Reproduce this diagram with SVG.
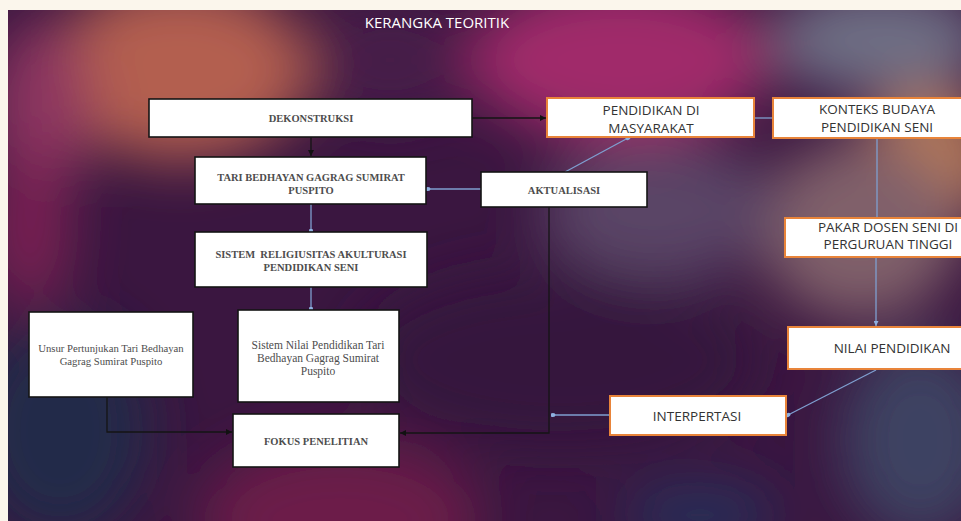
<svg xmlns="http://www.w3.org/2000/svg" width="961" height="521" viewBox="0 0 961 521">
<defs>
<filter id="blur" x="-50%" y="-50%" width="200%" height="200%"><feGaussianBlur stdDeviation="28"/></filter>
<clipPath id="bgclip"><rect x="8" y="10" width="953" height="511"/></clipPath>
<marker id="dot" viewBox="0 0 6 6" refX="3" refY="3" markerWidth="5" markerHeight="5" orient="auto" markerUnits="userSpaceOnUse">
<ellipse cx="3" cy="3" rx="3" ry="2.4" fill="#8fb0e0"/>
</marker>
<marker id="tri" viewBox="0 0 8 8" refX="8" refY="4" markerWidth="6" markerHeight="6" orient="auto" markerUnits="userSpaceOnUse">
<path d="M0,0 L8,4 L0,8 z" fill="#111"/>
</marker>
<marker id="btri" viewBox="0 0 8 8" refX="8" refY="4" markerWidth="5" markerHeight="5" orient="auto" markerUnits="userSpaceOnUse">
<path d="M0,0 L8,4 L0,8 z" fill="#8fb0e0"/>
</marker>
</defs>
<style>
.bx{fill:#ffffff;stroke:#151515;stroke-width:1.6}
.ob{fill:#ffffff;stroke:#e8843a;stroke-width:2}
.st{font-family:"Liberation Serif","Times New Roman",serif;font-size:10.5px;fill:#4d4d4d;text-anchor:middle;font-weight:bold}
.ss{font-family:"Liberation Serif","Times New Roman",serif;font-size:10.7px;fill:#4d4d4d;text-anchor:middle}
.sn{font-family:"Open Sans","Liberation Sans",sans-serif;font-size:13.5px;fill:#333333;text-anchor:middle}
.ttl{font-family:"Open Sans","Liberation Sans",sans-serif;font-size:15px;fill:#ffffff;text-anchor:middle}
.bl{fill:none;stroke:#7f9fd0;stroke-width:1.3}
.bk{fill:none;stroke:#151515;stroke-width:1.3}
</style>
<rect x="0" y="0" width="961" height="521" fill="#fbf6ec"/>
<g id="background" clip-path="url(#bgclip)">
<rect x="8" y="10" width="953" height="511" fill="#3a1640"/>
<g filter="url(#blur)">
<ellipse cx="180" cy="70" rx="130" ry="90" fill="#b35e50"/>
<ellipse cx="40" cy="110" rx="50" ry="90" fill="#8c3460"/>
<ellipse cx="390" cy="60" rx="80" ry="60" fill="#461a48"/>
<ellipse cx="620" cy="60" rx="150" ry="80" fill="#a02c6a"/>
<ellipse cx="880" cy="40" rx="110" ry="55" fill="#6e6e84"/>
<ellipse cx="930" cy="160" rx="70" ry="70" fill="#b27858"/>
<ellipse cx="860" cy="230" rx="100" ry="90" fill="#80606a"/>
<ellipse cx="660" cy="210" rx="120" ry="70" fill="#5a4466"/>
<ellipse cx="30" cy="230" rx="40" ry="80" fill="#7a2252"/>
<ellipse cx="60" cy="430" rx="90" ry="110" fill="#222a48"/>
<ellipse cx="340" cy="520" rx="140" ry="80" fill="#6c1c48"/>
<ellipse cx="920" cy="440" rx="80" ry="100" fill="#3c4262"/>
<ellipse cx="700" cy="515" rx="80" ry="30" fill="#27305a"/>
<ellipse cx="560" cy="360" rx="200" ry="90" fill="#35143d"/>
</g>
</g>
<text class="ttl" x="437" y="28">KERANGKA TEORITIK</text>
<g id="connectors">
<line class="bk" x1="472" y1="118" x2="546" y2="118" marker-end="url(#tri)"/>
<line class="bk" x1="311" y1="137" x2="311" y2="156" marker-end="url(#tri)"/>
<line class="bl" x1="481" y1="189" x2="428" y2="189" marker-end="url(#dot)"/>
<line class="bl" x1="565" y1="172" x2="628" y2="138" marker-end="url(#dot)"/>
<line class="bl" x1="754" y1="118" x2="773" y2="118"/>
<line class="bl" x1="311" y1="204" x2="311" y2="231" marker-end="url(#dot)"/>
<line class="bl" x1="311" y1="287" x2="311" y2="309" marker-end="url(#dot)"/>
<polyline class="bk" points="107,397 107,432 232,432" marker-end="url(#tri)"/>
<polyline class="bk" points="549,207 549,433 400,433" marker-end="url(#tri)"/>
<line class="bl" x1="610" y1="415" x2="553" y2="415" marker-end="url(#dot)"/>
<line class="bl" x1="877" y1="138" x2="877" y2="218"/>
<line class="bl" x1="876" y1="257" x2="876" y2="326" marker-end="url(#btri)"/>
<line class="bl" x1="876" y1="370" x2="788" y2="415" marker-end="url(#dot)"/>
</g>
<g id="dekonstruksi">
<rect class="bx" x="149" y="99" width="323" height="38"/>
<text class="st" x="311" y="122">DEKONSTRUKSI</text>
</g>
<g id="tari-bedhayan">
<rect class="bx" x="195" y="157" width="231" height="47"/>
<text class="st" x="311" y="181">TARI BEDHAYAN GAGRAG SUMIRAT</text>
<text class="st" x="311" y="194">PUSPITO</text>
</g>
<g id="sistem-religiusitas">
<rect class="bx" x="195" y="232" width="232" height="55"/>
<text class="st" x="311" y="258" xml:space="preserve">SISTEM  RELIGIUSITAS AKULTURASI</text>
<text class="st" x="311" y="271">PENDIDIKAN SENI</text>
</g>
<g id="sistem-nilai">
<rect class="bx" x="238" y="310" width="161" height="92"/>
<text class="ss" x="318" y="349" style="font-size:11.5px">Sistem Nilai Pendidikan Tari</text>
<text class="ss" x="318" y="362" style="font-size:11.5px">Bedhayan Gagrag Sumirat</text>
<text class="ss" x="318" y="375" style="font-size:11.5px">Puspito</text>
</g>
<g id="unsur-pertunjukan">
<rect class="bx" x="29" y="312" width="164" height="85"/>
<text class="ss" x="111" y="352">Unsur Pertunjukan Tari Bedhayan</text>
<text class="ss" x="111" y="365">Gagrag Sumirat Puspito</text>
</g>
<g id="fokus-penelitian">
<rect class="bx" x="233" y="414" width="166" height="53"/>
<text class="st" x="316" y="445">FOKUS PENELITIAN</text>
</g>
<g id="aktualisasi">
<rect class="bx" x="481" y="172" width="166" height="35"/>
<text class="st" x="564" y="193.5">AKTUALISASI</text>
</g>
<g id="pendidikan-masyarakat">
<rect class="ob" x="547" y="98" width="207" height="39"/>
<text class="sn" x="651" y="114.5">PENDIDIKAN DI</text>
<text class="sn" x="651" y="132.5">MASYARAKAT</text>
</g>
<g id="konteks-budaya">
<rect class="ob" x="773" y="98" width="192" height="40"/>
<text class="sn" x="877" y="113.5">KONTEKS BUDAYA</text>
<text class="sn" x="877" y="131.5">PENDIDIKAN SENI</text>
</g>
<g id="pakar-dosen">
<rect class="ob" x="785" y="218" width="180" height="39"/>
<text class="sn" x="888" y="231.5">PAKAR DOSEN SENI DI</text>
<text class="sn" x="888" y="248.5">PERGURUAN TINGGI</text>
</g>
<g id="nilai-pendidikan">
<rect class="ob" x="788" y="327" width="177" height="42"/>
<text class="sn" x="892" y="352.5">NILAI PENDIDIKAN</text>
</g>
<g id="interpertasi">
<rect class="ob" x="610" y="396" width="176" height="39"/>
<text class="sn" x="697" y="421">INTERPERTASI</text>
</g>
</svg>
